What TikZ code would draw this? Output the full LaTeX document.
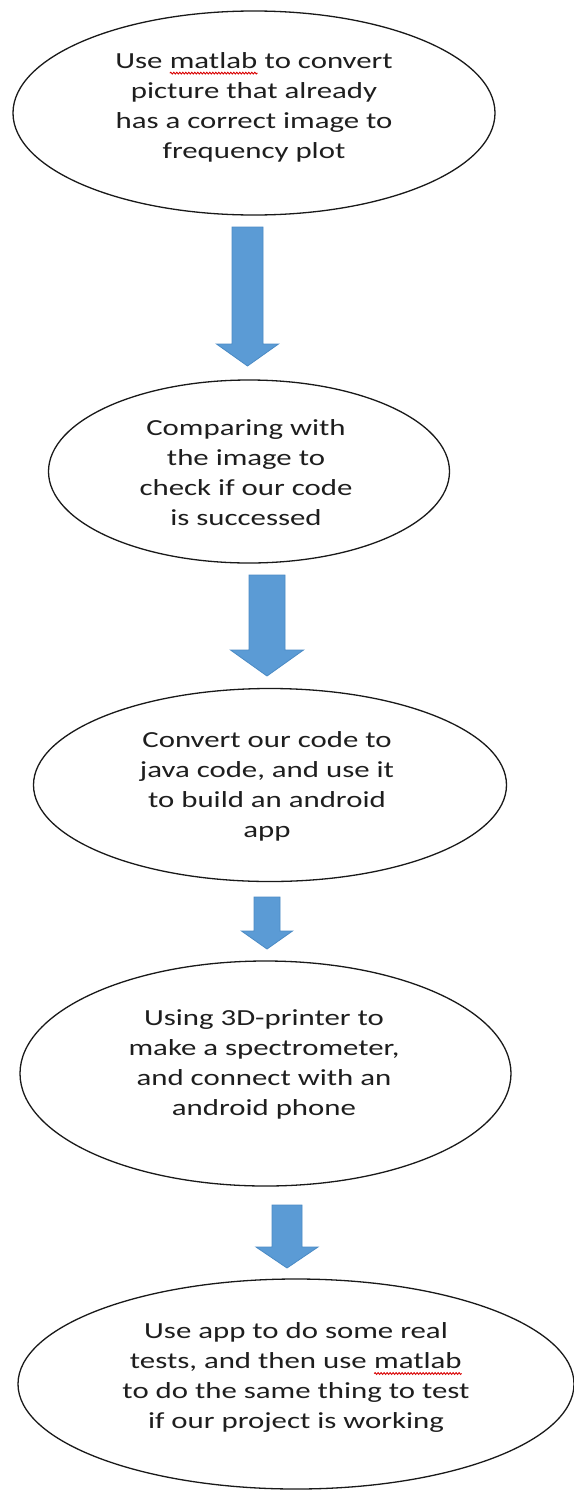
\documentclass[tikz,border=0pt]{standalone}
\usepackage{fontspec}
\usetikzlibrary{shapes.geometric,calc,decorations.pathmorphing}
\newfontfamily\wordfont[FakeStretch=1.34]{Carlito}
\definecolor{arrowblue}{HTML}{5B9BD5}
\definecolor{arrowedge}{HTML}{4A8AC4}
\definecolor{inktext}{HTML}{1E1E1E}
\newcommand\spellerr[1]{\tikz[baseline=(sp.base)]{\node[inner sep=0pt,outer sep=0pt](sp){#1};\draw[red!85!black,line width=0.9pt,decorate,decoration={snake,amplitude=0.9pt,segment length=3pt}]([yshift=-5pt]sp.base west)--([yshift=-5pt]sp.base east);}}
\newcommand\blockarrow[5]{%
  \filldraw[blockarrowstyle] ($(#1)+(-#3,0)$) -- ($(#1)+(#3,0)$) -- ($(#2)+(#3,-#5)$) -- ($(#2)+(#4,-#5)$) -- (#2) -- ($(#2)+(-#4,-#5)$) -- ($(#2)+(-#3,-#5)$) -- cycle;}
\tikzset{
  bubble/.style={ellipse, draw=black!90, line width=1.3pt, inner sep=0pt},
  steptext/.style={align=center, inner sep=0pt, text=inktext, font=\wordfont\fontsize{23}{30}\selectfont},
  blockarrowstyle/.style={fill=arrowblue, draw=arrowedge, line width=0.8pt, line join=miter},
}
\begin{document}
\begin{tikzpicture}[x=1pt,y=-1pt]
\useasboundingbox (0,0) rectangle (573,1491);
\fill[white] (0,0) rectangle (573,1491);

\node[bubble, minimum width=482pt, minimum height=204pt] (e1) at (254,113) {};
\node[steptext] (t1) at (254,107) {Use \spellerr{matlab} to convert\\picture that already\\has a correct image to\\frequency plot};

\node[bubble, minimum width=401pt, minimum height=183pt] (e2) at (249,471.5) {};
\node[steptext] (t2) at (246,472.5) {Comparing with\\the image to\\check if our code\\is successed};

\node[bubble, minimum width=473pt, minimum height=193pt] (e3) at (270,785) {};
\node[steptext] (t3) at (267,786) {Convert our code to\\java code, and use it\\to build an android\\app};

\node[bubble, minimum width=491pt, minimum height=225pt] (e4) at (265.5,1073.5) {};
\node[steptext] (t4) at (264,1064.5) {Using 3D-printer to\\make a spectrometer,\\and connect with an\\android phone};

\node[bubble, minimum width=556pt, minimum height=210pt] (e5) at (296,1384) {};
\node[steptext] (t5) at (296,1377.5) {Use app to do some real\\tests, and then use \spellerr{matlab}\\to do the same thing to test\\if our project is working};

\coordinate (a1s) at (247.5,227);
\coordinate (a1e) at (247.5,366);
\coordinate (a2s) at (267,575);
\coordinate (a2e) at (267,676);
\coordinate (a3s) at (267,897);
\coordinate (a3e) at (267,949);
\coordinate (a4s) at (287,1205);
\coordinate (a4e) at (287,1268);

\blockarrow{a1s}{a1e}{15.5}{31}{22}
\blockarrow{a2s}{a2e}{18}{36.5}{26}
\blockarrow{a3s}{a3e}{13}{25.5}{18}
\blockarrow{a4s}{a4e}{15}{31}{21}
\end{tikzpicture}
\end{document}
